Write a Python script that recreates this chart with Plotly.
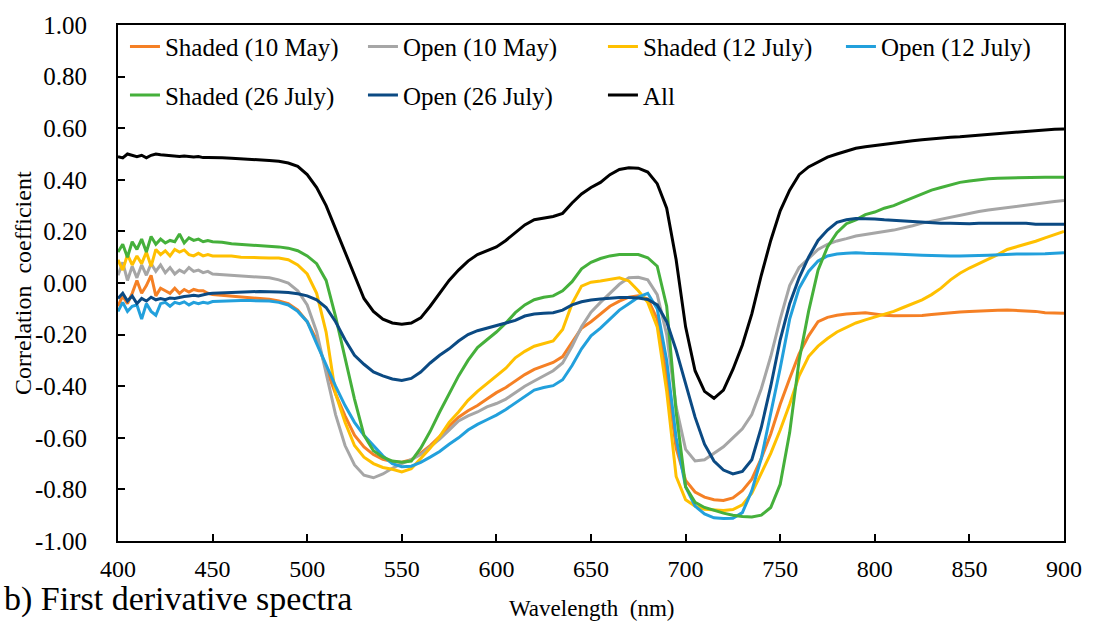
import plotly.graph_objects as go

wavelength = [400, 402.5, 405, 407.5, 410, 412.5, 415, 417.5, 420, 422.5, 425, 427.5, 430, 432.5, 435, 437.5, 440, 442.5, 445, 447.5, 450] + list(range(455, 901, 5))

shaded_10may = [-0.09, -0.05, -0.08, -0.04, 0.01, -0.04, -0.01, 0.03, -0.05, -0.02, -0.03, -0.04, -0.02, -0.04, -0.025, -0.035, -0.025, -0.03, -0.03, -0.04, -0.045,
    -0.048, -0.05, -0.053, -0.056, -0.06, -0.063, -0.07, -0.08, -0.105, -0.15,
    -0.22, -0.33, -0.43, -0.515, -0.59, -0.635, -0.665, -0.683, -0.692, -0.695,
    -0.685, -0.66, -0.63, -0.595, -0.555, -0.52, -0.495, -0.475, -0.45, -0.425,
    -0.405, -0.38, -0.355, -0.335, -0.32, -0.308, -0.285, -0.23, -0.175, -0.15,
    -0.12, -0.09, -0.07, -0.055, -0.05, -0.062, -0.14, -0.36, -0.64, -0.765,
    -0.81, -0.83, -0.84, -0.843, -0.833, -0.805, -0.76, -0.68, -0.585, -0.47,
    -0.37, -0.275, -0.205, -0.15, -0.133, -0.125, -0.12, -0.117, -0.115, -0.12,
    -0.125, -0.127, -0.127, -0.127, -0.126, -0.122, -0.118, -0.115, -0.112, -0.11,
    -0.108, -0.107, -0.106, -0.105, -0.107, -0.108, -0.11, -0.115, -0.117, -0.117]

open_10may = [0.03, 0.08, 0.01, 0.065, 0.02, 0.07, 0.03, 0.075, 0.045, 0.07, 0.04, 0.06, 0.035, 0.05, 0.04, 0.06, 0.045, 0.05, 0.04, 0.045, 0.035,
    0.033, 0.03, 0.028, 0.025, 0.022, 0.02, 0.012, 0.0, -0.03, -0.085,
    -0.19, -0.35, -0.51, -0.63, -0.705, -0.745, -0.755, -0.74, -0.718, -0.70,
    -0.685, -0.665, -0.635, -0.605, -0.57, -0.535, -0.515, -0.5, -0.48, -0.467,
    -0.45, -0.425, -0.40, -0.38, -0.36, -0.34, -0.31, -0.245, -0.17, -0.113,
    -0.075, -0.04, -0.005, 0.02, 0.022, 0.012, -0.045, -0.2, -0.48, -0.645,
    -0.69, -0.685, -0.66, -0.635, -0.6, -0.565, -0.51, -0.41, -0.285, -0.14,
    -0.01, 0.06, 0.095, 0.13, 0.15, 0.163, 0.172, 0.182, 0.188, 0.195,
    0.20, 0.205, 0.213, 0.222, 0.232, 0.24, 0.248, 0.255, 0.262, 0.27,
    0.277, 0.283, 0.288, 0.293, 0.298, 0.302, 0.307, 0.312, 0.316, 0.32]

shaded_12july = [0.09, 0.05, 0.11, 0.07, 0.105, 0.075, 0.12, 0.065, 0.13, 0.11, 0.125, 0.105, 0.13, 0.12, 0.128, 0.11, 0.105, 0.115, 0.105, 0.11, 0.105,
    0.105, 0.105, 0.10, 0.098, 0.098, 0.097, 0.097, 0.09, 0.07, 0.035,
    -0.04, -0.19, -0.43, -0.54, -0.63, -0.675, -0.70, -0.715, -0.722, -0.732,
    -0.72, -0.68, -0.64, -0.595, -0.54, -0.50, -0.455, -0.42, -0.39, -0.36,
    -0.33, -0.29, -0.265, -0.245, -0.235, -0.225, -0.18, -0.08, -0.012, 0.003,
    0.008, 0.015, 0.02, 0.008, -0.03, -0.075, -0.17, -0.42, -0.75, -0.84,
    -0.865, -0.877, -0.88, -0.882, -0.878, -0.86, -0.815, -0.74, -0.66, -0.57,
    -0.47, -0.36, -0.285, -0.245, -0.215, -0.19, -0.172, -0.155, -0.143, -0.132,
    -0.122, -0.11, -0.095, -0.08, -0.065, -0.045, -0.02, 0.012, 0.038, 0.058,
    0.075, 0.09, 0.11, 0.13, 0.14, 0.15, 0.162, 0.175, 0.188, 0.20]

open_12july = [-0.11, -0.075, -0.11, -0.09, -0.085, -0.14, -0.08, -0.11, -0.125, -0.08, -0.075, -0.09, -0.075, -0.08, -0.073, -0.085, -0.075, -0.08, -0.075, -0.078, -0.072,
    -0.07, -0.068, -0.068, -0.068, -0.068, -0.07, -0.075, -0.085, -0.11, -0.15,
    -0.235, -0.32, -0.40, -0.475, -0.54, -0.59, -0.63, -0.67, -0.70, -0.712,
    -0.71, -0.695, -0.675, -0.653, -0.625, -0.6, -0.57, -0.548, -0.53, -0.512,
    -0.49, -0.465, -0.44, -0.415, -0.405, -0.398, -0.375, -0.32, -0.255, -0.205,
    -0.175, -0.14, -0.105, -0.08, -0.055, -0.04, -0.1, -0.3, -0.6, -0.79,
    -0.865, -0.895, -0.91, -0.913, -0.912, -0.89, -0.805, -0.68, -0.51, -0.33,
    -0.14, -0.02, 0.045, 0.085, 0.105, 0.112, 0.115, 0.117, 0.115, 0.113,
    0.113, 0.112, 0.11, 0.11, 0.108, 0.107, 0.105, 0.105, 0.105, 0.105,
    0.107, 0.108, 0.11, 0.112, 0.112, 0.112, 0.112, 0.113, 0.115, 0.117]

shaded_26july = [0.12, 0.15, 0.10, 0.16, 0.13, 0.17, 0.12, 0.18, 0.15, 0.17, 0.155, 0.165, 0.16, 0.19, 0.155, 0.175, 0.165, 0.17, 0.16, 0.165, 0.16,
    0.158, 0.152, 0.15, 0.148, 0.145, 0.143, 0.14, 0.135, 0.125, 0.105,
    0.075, 0.01, -0.13, -0.29, -0.45, -0.59, -0.65, -0.675, -0.69, -0.695,
    -0.69, -0.64, -0.575, -0.50, -0.43, -0.36, -0.30, -0.25, -0.22, -0.19,
    -0.155, -0.115, -0.085, -0.065, -0.055, -0.05, -0.03, 0.005, 0.055, 0.08,
    0.095, 0.105, 0.11, 0.11, 0.11, 0.098, 0.065, -0.09, -0.50, -0.79,
    -0.85, -0.87, -0.882, -0.892, -0.90, -0.905, -0.907, -0.90, -0.87, -0.78,
    -0.58, -0.30, -0.11, 0.05, 0.14, 0.195, 0.23, 0.245, 0.265, 0.275,
    0.29, 0.30, 0.315, 0.33, 0.345, 0.36, 0.37, 0.38, 0.39, 0.395,
    0.40, 0.404, 0.406, 0.407, 0.408, 0.41, 0.41, 0.41, 0.41, 0.41]

open_26july = [-0.06, -0.04, -0.07, -0.05, -0.08, -0.06, -0.07, -0.055, -0.065, -0.06, -0.065, -0.058, -0.06, -0.055, -0.052, -0.05, -0.048, -0.05, -0.045, -0.042, -0.04,
    -0.038, -0.037, -0.035, -0.034, -0.033, -0.033, -0.035, -0.037, -0.042, -0.05,
    -0.065, -0.095, -0.15, -0.22, -0.28, -0.315, -0.345, -0.36, -0.372, -0.378,
    -0.37, -0.345, -0.31, -0.28, -0.255, -0.225, -0.20, -0.185, -0.175, -0.167,
    -0.155, -0.145, -0.128, -0.12, -0.117, -0.115, -0.105, -0.085, -0.073, -0.066,
    -0.062, -0.058, -0.056, -0.056, -0.058, -0.064, -0.085, -0.15, -0.26, -0.39,
    -0.52, -0.625, -0.69, -0.725, -0.74, -0.73, -0.685, -0.56, -0.40, -0.22,
    -0.08, 0.02, 0.10, 0.165, 0.205, 0.235, 0.245, 0.25, 0.25, 0.248,
    0.245, 0.243, 0.24, 0.237, 0.235, 0.233, 0.232, 0.232, 0.23, 0.23,
    0.232, 0.232, 0.232, 0.232, 0.232, 0.232, 0.228, 0.228, 0.228, 0.228]

all_samples = [0.49, 0.485, 0.50, 0.495, 0.49, 0.495, 0.485, 0.495, 0.50, 0.497, 0.495, 0.495, 0.493, 0.49, 0.492, 0.49, 0.488, 0.49, 0.486, 0.486, 0.485,
    0.485, 0.484, 0.482, 0.48, 0.479, 0.475, 0.472, 0.465, 0.452, 0.42,
    0.37, 0.30, 0.21, 0.12, 0.025, -0.06, -0.11, -0.14, -0.155, -0.16,
    -0.155, -0.135, -0.09, -0.04, 0.01, 0.05, 0.085, 0.11, 0.125, 0.14,
    0.165, 0.195, 0.225, 0.245, 0.252, 0.258, 0.27, 0.31, 0.345, 0.37,
    0.39, 0.42, 0.44, 0.447, 0.445, 0.43, 0.385, 0.29, 0.09, -0.17,
    -0.34, -0.42, -0.447, -0.415, -0.335, -0.24, -0.12, 0.03, 0.165, 0.28,
    0.36, 0.42, 0.45, 0.47, 0.488, 0.50, 0.512, 0.522, 0.528, 0.533,
    0.538, 0.543, 0.547, 0.551, 0.555, 0.559, 0.562, 0.565, 0.567, 0.57,
    0.573, 0.576, 0.579, 0.582, 0.585, 0.588, 0.59, 0.594, 0.596, 0.597]

series_names = ["Shaded (10 May)", "Open (10 May)", "Shaded (12 July)", "Open (12 July)",
                "Shaded (26 July)", "Open (26 July)", "All"]
series_values = [shaded_10may, open_10may, shaded_12july, open_12july,
                 shaded_26july, open_26july, all_samples]
series_colors = ["#F58025", "#A6A6A6", "#FFC000", "#22A0DC", "#45B03B", "#0B4A83", "#000000"]

x_ticks = [400, 450, 500, 550, 600, 650, 700, 750, 800, 850, 900]
y_ticks = [-1.0, -0.8, -0.6, -0.4, -0.2, 0.0, 0.2, 0.4, 0.6, 0.8, 1.0]
y_ticktext = ["-1.00", "-0.80", "-0.60", "-0.40", "-0.20", "0.00", "0.20", "0.40", "0.60", "0.80", "1.00"]

FONT = "Liberation Serif, Times New Roman, serif"
W, H = 1094, 624
L, R, T, B = 118, 26, 20, 83
pw, ph = W - L - R, H - T - B

# legend layout: columns (text start px) and rows (center px)
legend_cols = [165, 404, 645, 884, 165, 404, 645]
legend_rows = [42, 42, 42, 42, 91, 91, 91]

fig = go.Figure()
for i, (name, vals, col) in enumerate(zip(series_names, series_values, series_colors)):
    lg = "legend" if i == 0 else f"legend{i+1}"
    fig.add_trace(go.Scatter(x=wavelength, y=vals, mode="lines", name=name,
                             line=dict(color=col, width=3), legend=lg))

layout_legends = {}
for i in range(7):
    key = "legend" if i == 0 else f"legend{i+1}"
    layout_legends[key] = dict(
        x=(legend_cols[i] - 40 - L) / pw,
        y=1 - (legend_rows[i] - T) / ph,
        xanchor="left", yanchor="middle",
        bgcolor="rgba(0,0,0,0)", borderwidth=0,
        font=dict(family=FONT, size=25, color="black"),
    )

fig.update_layout(
    width=W, height=H,
    margin=dict(l=L, r=R, t=T, b=B, pad=0),
    paper_bgcolor="white", plot_bgcolor="white",
    showlegend=True,
    **layout_legends,
)

fig.update_xaxes(range=[400, 900], tickvals=x_ticks, ticks="inside", ticklen=7, tickwidth=1.5,
                 tickcolor="black", showline=True, linecolor="black", linewidth=2, mirror=True,
                 showgrid=False, zeroline=False, ticklabelstandoff=5,
                 tickfont=dict(family=FONT, size=24, color="black"))
fig.update_yaxes(range=[-1, 1], tickvals=y_ticks, ticktext=y_ticktext, ticks="inside", ticklen=7,
                 tickwidth=1.5, tickcolor="black", showline=True, linecolor="black", linewidth=2,
                 mirror=True, showgrid=False, zeroline=False, ticklabelstandoff=24,
                 tickfont=dict(family=FONT, size=25, color="black"))

fig.add_annotation(text="Correlation\u00a0 coefficient", xref="paper", yref="paper",
                   x=(22 - L) / pw, y=1 - (280 - T) / ph, textangle=-90, showarrow=False,
                   xanchor="center", yanchor="middle",
                   font=dict(family=FONT, size=24, color="black"))
fig.add_annotation(text="Wavelength\u00a0 (nm)", xref="paper", yref="paper",
                   x=(594 - L) / pw, y=1 - (609 - T) / ph, showarrow=False,
                   xanchor="center", yanchor="middle",
                   font=dict(family=FONT, size=23, color="black"))
fig.add_annotation(text="b) First derivative spectra", xref="paper", yref="paper",
                   x=(3 - L) / pw, y=1 - (600 - T) / ph, showarrow=False,
                   xanchor="left", yanchor="middle", borderpad=0,
                   font=dict(family=FONT, size=34, color="black"))

fig.write_html("out.html")
